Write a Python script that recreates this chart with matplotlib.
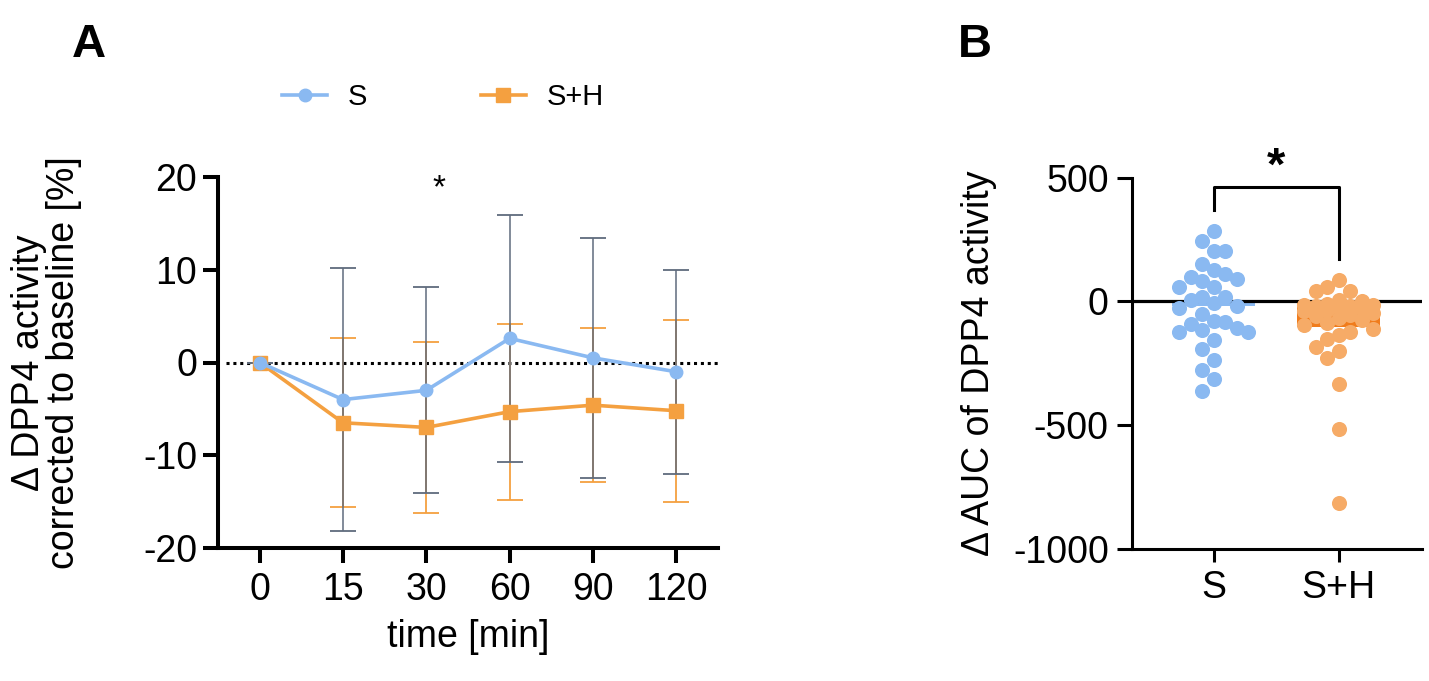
import numpy as np
import matplotlib
matplotlib.use("Agg")
import matplotlib.pyplot as plt
from matplotlib.lines import Line2D

plt.rcParams['font.family'] = ['Liberation Sans', 'DejaVu Sans']
plt.rcParams['axes.unicode_minus'] = False

# ---------------- data ----------------
time_labels = ["0", "15", "30", "60", "90", "120"]
s_mean = [0.0, -4.0, -3.0, 2.6, 0.5, -1.0]
s_sd = [0.0, 14.2, 11.1, 13.3, 12.9, 11.0]
sh_mean = [0.0, -6.5, -7.0, -5.3, -4.6, -5.2]
sh_sd = [0.0, 9.1, 9.2, 9.5, 8.3, 9.8]

groups = ["S", "S+H"]
auc_s = [286, 246, 202, 202, 151, 81, 92, 97, 110, 128, 58, 58, 18, 7, 18,
         -6, -27, -20, -51, -77, -81, -90, -125, -117, -107, -125, -157,
         -192, -235, -278, -312, -363]
auc_sh = [87, 60, 43, 43, 5, 2, -15, -20, -10, -15, -20, -25, -30, -35,
          -40, -45, -55, -60, -65, -75, -85, -95, -110, -125, -135, -150,
          -185, -200, -230, -332, -514, -813]

C_S = "#8ab9f1"
C_SH = "#f4a040"
C_SH_PT = "#f6ab67"
C_SH_BAR = "#f07c1c"
C_S_ERR = "#5f6b7d"

fig = plt.figure(figsize=(14.29, 6.81), dpi=100)
W, H = 1429, 681

# ---------------- panel A ----------------
axA = fig.add_axes([218 / W, 1 - 548 / H, 500 / W, 371 / H])
x = np.arange(len(time_labels))
axA.errorbar(x, sh_mean, yerr=sh_sd, fmt='none', ecolor=C_SH, elinewidth=1.3,
             capsize=9.5, capthick=1.3, zorder=2)
axA.errorbar(x, s_mean, yerr=s_sd, fmt='none', ecolor=C_S_ERR, elinewidth=1.1,
             capsize=9.5, capthick=1.3, zorder=3)
axA.axhline(0, color='black', lw=2.2, ls=(0, (1, 1.25)), zorder=1,
            xmin=0.015, xmax=1)
axA.plot(x, sh_mean, color=C_SH, lw=2.6, marker='s', ms=9.5, zorder=4)
axA.plot(x, s_mean, color=C_S, lw=2.6, marker='o', ms=9, zorder=5)

axA.set_xlim(-0.5, 5.5)
axA.set_ylim(-20, 20)
axA.set_yticks([-20, -10, 0, 10, 20])
axA.set_xticks(x)
axA.set_xticklabels(time_labels)
for sp in ['top', 'right']:
    axA.spines[sp].set_visible(False)
for sp in ['left', 'bottom']:
    axA.spines[sp].set_linewidth(2.9)
axA.tick_params(axis='both', length=11, width=2.9, labelsize=27, color='black')
axA.tick_params(axis='y', pad=4)
axA.tick_params(axis='x', pad=6)
axA.set_xlabel("time [min]", fontsize=27, labelpad=8)
axA.set_ylabel("Δ DPP4 activity\ncorrected to baseline [%]", fontsize=27,
               linespacing=0.95)
axA.yaxis.set_label_coords(-0.272, 0.5)
axA.text(2.15, 18.7, "*", fontsize=24, ha='center', va='center')

handles = [Line2D([], [], color=C_S, lw=2.6, marker='o', ms=9),
           Line2D([], [], color=C_SH, lw=2.6, marker='s', ms=9.5)]
fig.legend(handles, groups, loc='center left', ncol=2, frameon=False,
           bbox_to_anchor=(282 / W, 1 - 97 / H), fontsize=21,
           handlelength=1.55, handletextpad=0.7, columnspacing=3.9,
           borderpad=0, borderaxespad=0)

fig.text(89 / W, 1 - 45 / H, "A", fontsize=34, fontweight='bold',
         ha='center', va='center')
fig.text(975 / W, 1 - 45 / H, "B", fontsize=34, fontweight='bold',
         ha='center', va='center')

# ---------------- panel B ----------------
axB = fig.add_axes([1131.7 / W, 1 - 549 / H, 290 / W, 371.3 / H])
axB.set_xlim(-0.656, 1.664)
axB.set_ylim(-1000, 500)

means = [np.mean(auc_s), np.mean(auc_sh)]
axB.bar([0, 1], means, width=0.66, color=[C_S, C_SH_BAR], zorder=1)
axB.axhline(0, color='black', lw=2.3, zorder=2)


def swarm(ax, center, vals, diam_px, step_px, max_col=3):
    """Column scatter: place each point in the nearest free column;
    if none is free within the width limit, use the least crowded one."""
    vals = np.asarray(vals, dtype=float)
    disp = ax.transData.transform(np.column_stack([np.full(len(vals), center), vals]))
    ys = disp[:, 1]
    p0 = ax.transData.transform((0, 0))[0]
    p1 = ax.transData.transform((1, 0))[0]
    px_per_unit = p1 - p0
    order = np.argsort(-vals)
    placed = []
    cols = np.zeros(len(vals))
    cands = [0] + [s * j for j in range(1, max_col + 1) for s in (-1, 1)]
    for i in order:
        chosen = None
        best, best_gap = 0, -1.0
        for c in cands:
            gaps = [abs(ys[i] - py) for pc, py in placed if pc == c]
            gap = min(gaps) if gaps else 1e9
            if gap >= diam_px:
                chosen = c
                break
            if gap > best_gap:
                best, best_gap = c, gap
        if chosen is None:
            chosen = best
        cols[i] = chosen
        placed.append((chosen, ys[i]))
    return center + cols * step_px / px_per_unit


xs_s = swarm(axB, 0, auc_s, 15.5, 11.5)
xs_sh = swarm(axB, 1, auc_sh, 15.5, 11.5)
axB.scatter(xs_s, auc_s, s=118, color=C_S, linewidths=0, zorder=3)
axB.scatter(xs_sh, auc_sh, s=118, color=C_SH_PT, linewidths=0, zorder=3)

# significance bracket
top = 464
lb = max(auc_s) + 85
rb = max(auc_sh) + 85
axB.plot([0, 0, 1, 1], [lb, top, top, rb], color='black', lw=2.2,
         clip_on=False, zorder=4)
axB.text(0.5, 540, "*", fontsize=34, fontweight='bold', ha='center',
         va='center', clip_on=False)

axB.set_xticks([0, 1])
axB.set_xticklabels(groups)
axB.set_yticks([-1000, -500, 0, 500])
for sp in ['top', 'right']:
    axB.spines[sp].set_visible(False)
for sp in ['left', 'bottom']:
    axB.spines[sp].set_linewidth(2.2)
axB.tick_params(axis='both', length=11, width=2.2, labelsize=27, color='black')
axB.tick_params(axis='x', length=9, pad=6)
axB.tick_params(axis='y', pad=5.5)
axB.set_ylabel("Δ AUC of DPP4 activity", fontsize=27)
axB.yaxis.set_label_coords(-0.464, 0.5)

fig.savefig("out.png", dpi=100)
